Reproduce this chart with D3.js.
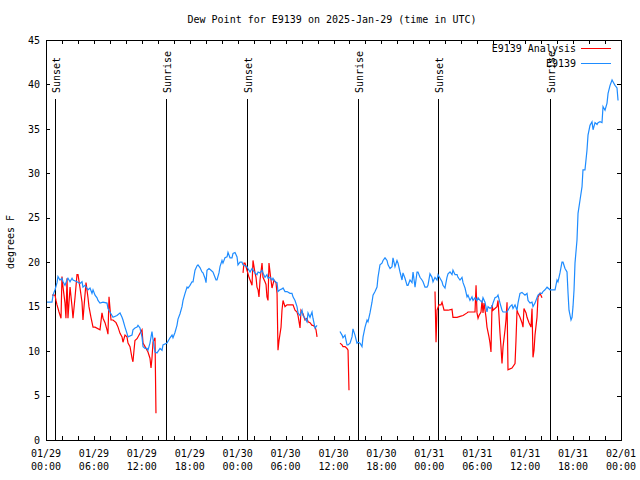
<!DOCTYPE html>
<html><head><meta charset="utf-8">
<script src="https://cdn.jsdelivr.net/npm/d3@7"></script>
<style>body{margin:0;background:#fff}svg{display:block}text{font-family:"DejaVu Sans Mono",monospace;font-size:10px;fill:#000}</style>
</head><body><svg id="c" width="640" height="480"></svg>
<script>
const titleText = "Dew Point for E9139 on 2025-Jan-29 (time in UTC)";
const yLabel = "degrees F";
const startDate = Date.UTC(2025, 0, 29);
const yTicks = [0,5,10,15,20,25,30,35,40,45];
const seriesNames = ["E9139 Analysis", "E9139"];
const seriesColors = ["#ff0000", "#1e8cff"];

// hours since 01/29 00:00 UTC
const obsHours = [0,0.25,0.75,0.88,1.13,1.38,1.50,1.75,2.00,2.13,2.38,2.63,2.75,3.01,3.26,3.38,3.88,4.26,4.51,4.63,4.88,5.26,5.51,5.76,5.89,6.14,6.39,6.51,6.76,7.14,7.64,7.76,8.01,8.39,8.89,9.27,9.52,9.64,9.89,10.14,10.27,10.77,10.89,11.14,11.40,11.52,11.77,12.02,12.15,12.40,12.65,12.77,13.02,13.27,13.40,13.65,13.90,14.28,14.53,14.65,15.15,15.53,15.78,15.90,16.15,16.40,16.53,16.78,17.03,17.16,17.41,17.66,17.78,18.03,18.28,18.41,18.66,18.91,19.03,19.28,19.53,19.66,19.91,20.04,20.16,20.41,20.66,20.91,21.04,21.29,21.41,21.66,21.79,22.04,22.16,22.41,22.67,22.79,23.04,23.29,23.42,23.67,23.92,24.04,24.29,24.54,24.67,25.17,25.29,25.55,25.80,25.92,26.17,26.42,26.55,26.80,27.05,27.17,27.42,27.67,27.80,28.05,28.30,28.42,28.68,28.93,29.05,29.30,29.55,29.68,29.93,30.18,30.55,30.80,30.93,31.18,31.43,31.56,31.81,32.06,32.18,32.43,32.68,32.81,33.06,33.31,33.43,33.69,33.94,
36.81,37.07,37.19,37.44,37.69,37.82,38.07,38.32,38.44,38.69,38.94,39.07,39.32,39.57,39.70,39.95,40.20,40.32,40.57,40.82,40.95,41.20,41.45,41.57,41.82,42.07,42.20,42.45,42.70,42.83,43.08,43.33,43.45,43.70,43.95,44.08,44.33,44.58,44.70,44.95,45.21,45.33,45.58,45.83,45.96,46.21,46.46,46.58,46.83,47.08,47.21,47.46,47.71,47.83,48.08,48.33,48.46,48.71,48.96,49.09,49.34,49.59,49.71,49.96,50.21,50.34,50.59,50.84,50.96,51.22,51.47,51.59,51.84,52.09,52.22,52.47,52.72,52.84,53.09,53.34,53.47,53.72,53.97,54.10,54.35,54.60,54.72,54.97,55.22,55.35,55.60,55.85,55.97,56.22,56.47,56.60,56.85,57.10,57.23,57.48,57.73,57.85,58.10,58.35,58.48,58.73,58.98,59.10,59.35,59.60,59.73,59.98,60.23,60.36,60.61,60.86,60.98,61.23,61.48,61.61,61.86,62.11,62.23,62.48,62.74,62.86,63.11,63.49,63.74,63.99,64.11,64.36,64.61,64.74,64.99,65.24,65.37,65.49,65.74,65.87,65.99,66.12,66.24,66.49,66.62,66.87,67.12,67.24,67.49,67.74,67.87,68.12,68.37,68.50,68.75,69.00,69.12,69.37,69.62,69.75,70.00,70.25,70.38,70.63,70.88,71.00,71.25,71.50,71.63];
const obsValues = [15.5,15.5,15.5,16.3,16.9,17.7,18.4,18.0,18.2,17.8,17.4,18.0,18.2,17.8,18.2,18.0,17.8,17.6,17.8,17.2,17.4,16.9,17.1,16.5,16.9,16.3,16.0,15.7,15.4,15.5,15.4,14.8,14.4,13.8,14.0,14.3,13.8,13.5,12.7,12.0,11.6,11.8,12.4,12.6,12.7,12.9,12.6,11.6,10.5,10.3,10.3,10.1,10.9,12.2,11.3,9.9,9.8,10.3,10.1,10.7,10.9,11.5,11.8,11.5,12.1,12.9,13.6,14.2,15.0,15.7,16.5,17.2,17.1,17.4,17.8,17.8,19.1,19.6,19.7,19.4,18.9,18.8,18.2,17.7,19.1,19.3,19.1,18.9,18.6,18.0,18.0,18.8,19.5,20.2,19.9,20.5,20.6,21.1,20.5,20.5,21.0,21.1,20.6,19.7,20.0,20.0,19.7,19.5,19.3,18.9,19.3,19.1,18.8,18.6,18.9,18.8,19.1,18.8,18.3,18.6,18.2,18.3,18.0,18.2,17.8,17.7,16.7,16.9,17.0,17.1,16.7,16.7,16.5,16.5,16.1,15.7,15.0,14.3,14.0,14.6,14.0,13.7,13.3,14.3,13.8,14.4,13.7,12.6,12.9,
12.2,11.8,11.5,11.8,10.7,10.7,10.9,11.6,12.5,11.8,10.9,11.0,10.9,10.5,11.6,12.7,13.5,13.3,14.3,15.5,16.3,16.7,17.2,18.3,19.7,19.9,20.2,20.5,20.2,19.7,19.3,19.5,20.5,19.5,20.2,19.9,18.9,18.0,18.8,18.2,17.4,17.4,18.0,17.7,18.9,17.2,18.9,18.9,18.3,18.0,17.8,17.2,17.2,17.4,18.7,18.3,17.8,18.3,18.0,18.6,18.2,17.8,17.4,17.1,18.3,18.7,18.9,18.6,19.1,18.6,18.6,18.3,18.0,18.3,17.7,17.1,16.1,16.3,15.7,16.1,15.7,16.0,15.7,16.0,15.7,15.5,16.0,15.5,14.4,15.0,14.8,15.0,15.4,16.0,16.1,16.3,15.4,14.6,14.4,14.4,14.4,14.6,15.0,15.2,14.8,15.2,14.6,15.4,16.5,16.6,16.5,16.3,16.5,15.7,15.4,15.5,15.0,15.4,16.0,16.3,16.5,16.5,16.7,16.9,17.2,17.1,16.9,16.9,16.9,18.0,17.8,18.8,20.0,20.0,19.3,18.9,16.5,14.6,13.5,13.8,15.0,16.9,19.9,22.5,25.5,27.0,28.5,30.4,30.4,32.6,34.3,35.4,35.8,34.9,35.7,35.5,35.7,35.8,35.7,37.5,37.1,37.9,39.0,39.9,40.5,40.3,39.9,39.6,38.2];

const anaHours = [0.75,1.13,1.25,1.38,1.63,1.88,2.00,2.13,2.38,2.50,2.63,2.75,3.01,3.26,3.38,3.63,3.88,4.01,4.26,4.51,4.63,4.76,5.01,5.26,5.38,5.63,5.89,6.14,6.76,7.01,7.14,7.39,7.64,7.76,7.89,8.14,8.39,8.77,9.02,9.27,9.52,9.64,9.89,10.14,10.27,10.52,10.77,10.89,11.02,11.14,11.40,11.77,12.02,12.15,12.40,12.65,12.77,13.02,13.15,13.27,13.40,13.65,13.77,
24.67,24.79,24.92,25.17,25.42,25.55,25.80,25.92,26.17,26.30,26.42,26.55,26.67,26.80,27.05,27.17,27.42,27.55,27.67,27.80,27.92,28.17,28.30,28.55,28.80,28.93,29.05,29.18,29.43,29.55,29.68,29.93,30.18,30.55,30.93,31.18,31.43,31.56,31.81,31.93,32.18,32.43,32.68,32.81,33.06,33.31,33.43,33.69,33.81,33.94,
36.81,37.07,37.19,37.44,37.69,37.82,37.94,
48.71,48.84,48.96,49.21,49.46,49.59,49.84,50.34,50.84,50.96,51.47,51.84,52.22,52.72,52.84,53.34,53.72,53.85,53.97,54.10,54.22,54.47,54.60,54.72,54.85,55.10,55.22,55.47,55.60,55.72,55.85,55.97,56.22,56.47,56.60,56.72,56.85,56.97,57.10,57.23,57.48,57.60,57.73,57.85,58.35,58.73,58.85,58.98,59.10,59.35,59.60,59.73,59.85,60.11,60.23,60.48,60.73,60.86,60.98,61.11,61.23,61.48,61.61,61.86,62.11];
const anaValues = [16.3,16.3,15.7,15.2,14.4,13.7,18.4,17.2,15.4,13.7,18.2,13.7,17.2,15.0,13.7,16.0,18.6,18.6,17.1,15.5,13.5,15.0,17.7,16.0,15.0,13.8,12.7,12.7,12.4,14.3,13.7,13.2,12.4,11.9,16.1,13.5,13.5,13.2,12.7,12.0,11.6,11.0,11.8,11.6,10.9,10.5,9.2,8.8,10.1,11.2,11.4,12.0,12.4,10.9,10.5,10.1,9.9,9.2,8.1,9.2,11.0,11.5,3.0,
18.8,19.9,19.9,19.1,18.3,18.0,17.4,20.2,18.8,18.3,17.2,16.9,16.1,18.0,19.9,18.3,17.8,17.5,16.1,15.7,19.9,18.0,17.1,18.0,17.7,16.5,10.1,11.2,12.7,14.6,15.7,15.0,15.2,15.2,15.2,14.6,14.4,14.0,12.6,14.6,14.2,13.5,13.7,13.3,13.2,12.9,12.9,12.7,12.4,11.6,
10.9,10.7,10.5,10.5,10.3,10.1,5.6,
16.7,11.0,14.6,15.2,15.2,15.5,14.6,14.6,14.7,13.8,13.8,13.9,14.0,14.3,14.4,14.4,14.4,17.4,14.3,13.7,14.0,14.4,15.7,14.3,15.4,13.8,12.7,11.6,10.9,9.9,15.2,14.6,14.8,15.0,15.7,14.0,12.0,10.5,8.6,10.5,12.4,13.5,15.5,7.9,8.1,8.6,11.2,14.6,14.3,13.8,13.2,12.7,14.8,14.3,13.8,13.2,12.7,14.8,9.3,10.1,11.8,13.8,16.1,16.5,16.0];

const sunEventHours = [1.13, 15.15, 25.17, 39.19, 49.21, 63.11];
const sunEventNames = ["Sunset","Sunrise","Sunset","Sunrise","Sunset","Sunrise"];

const toDate = h => new Date(startDate + h * 3600e3);
const svg = d3.select("#c");
const L = 46, R = 621, T = 40, B = 440;
const x = d3.scaleUtc().domain([toDate(0), toDate(72)]).range([L, R]);
const y = d3.scaleLinear().domain([0, 45]).range([B, T]);

svg.append("text").attr("x", 332).attr("y", 23).attr("text-anchor", "middle").text(titleText);
svg.append("text").attr("transform", "translate(14,242) rotate(-90)").attr("text-anchor", "middle").text(yLabel);

const tick2 = d3.utcHour.every(2).range(toDate(0), toDate(72.01));
const tick6 = d3.utcHour.every(6).range(toDate(0), toDate(72.01));

function clean(g){ g.select(".domain").remove(); g.selectAll("line").attr("stroke","#000").attr("shape-rendering","crispEdges"); }
svg.append("g").attr("transform", `translate(0,${B})`).call(d3.axisBottom(x).tickValues(tick2).tickSize(-4).tickFormat("")).call(clean);
svg.append("g").attr("transform", `translate(0,${T})`).call(d3.axisTop(x).tickValues(tick2).tickSize(-4).tickFormat("")).call(clean);
svg.append("g").attr("transform", `translate(${L},0)`).call(d3.axisLeft(y).tickValues(yTicks).tickSize(-4).tickPadding(6)).call(clean)
  .selectAll("text").style("font-family", '"DejaVu Sans Mono",monospace').style("font-size","10px");
svg.append("g").attr("transform", `translate(${R},0)`).call(d3.axisRight(y).tickValues(yTicks).tickSize(-4).tickFormat("")).call(clean);

const fmtD = d3.utcFormat("%m/%d"), fmtT = d3.utcFormat("%H:%M");
const xl = svg.append("g");
tick6.forEach(d => {
  const t = xl.append("text").attr("text-anchor", "middle");
  t.append("tspan").attr("x", x(d)).attr("y", 457).text(fmtD(d));
  t.append("tspan").attr("x", x(d)).attr("y", 470).text(fmtT(d));
});

// sun events
sunEventHours.forEach((h, i) => {
  const px = x(toDate(h));
  svg.append("line").attr("x1", px).attr("x2", px).attr("y1", 99).attr("y2", B).attr("stroke", "#000").attr("stroke-width", 1).attr("shape-rendering","crispEdges");
  svg.append("text").attr("transform", `translate(${px + 1},93) rotate(-90)`).attr("dy", "0.35em").text(sunEventNames[i]);
});

function segs(hours, vals){
  const out = []; let cur = [];
  hours.forEach((h, i) => {
    if (cur.length && h - hours[i-1] > 1.5) { out.push(cur); cur = []; }
    cur.push([h, vals[i]]);
  });
  if (cur.length) out.push(cur);
  return out;
}
const lineL = d3.line().x(d => x(toDate(d[0]))).y(d => y(d[1]));
[[anaHours, anaValues, seriesColors[0]], [obsHours, obsValues, seriesColors[1]]].forEach(([hs, vs, c]) => {
  segs(hs, vs).forEach(s => {
    svg.append("path").attr("d", lineL(s)).attr("fill", "none").attr("stroke", c).attr("stroke-width", 1.2);
  });
});

// legend
seriesNames.forEach((n, i) => {
  const ly = 48 + i * 15;
  svg.append("text").attr("x", 576).attr("y", ly).attr("dy", "0.35em").attr("text-anchor", "end").text(n);
  svg.append("line").attr("x1", 581).attr("x2", 611).attr("y1", ly).attr("y2", ly).attr("stroke", seriesColors[i]).attr("stroke-width", 1).attr("shape-rendering","crispEdges");
});

svg.append("rect").attr("x", L).attr("y", T).attr("width", R - L).attr("height", B - T).attr("fill", "none").attr("stroke", "#000").attr("stroke-width", 1).attr("shape-rendering","crispEdges");
</script></body></html>
